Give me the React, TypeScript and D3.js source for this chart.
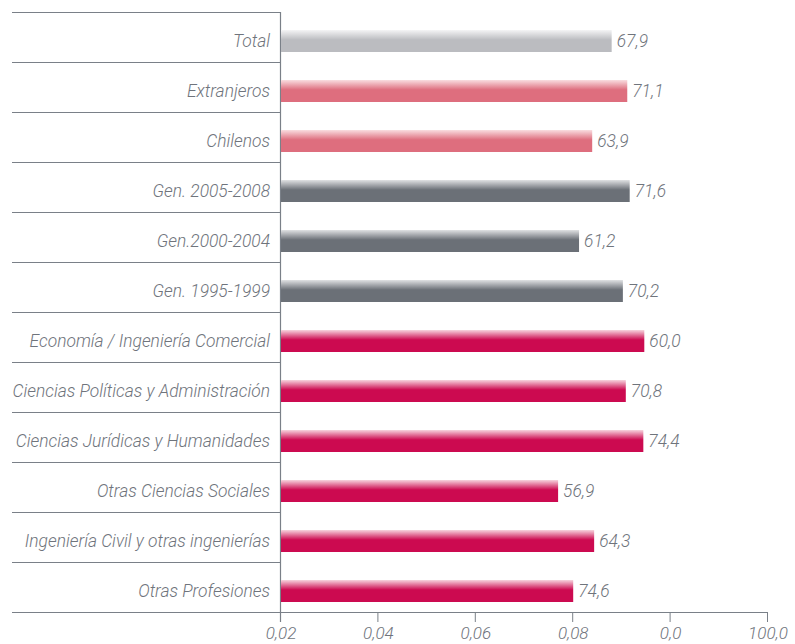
import React from "react";
import * as d3 from "d3";

const categories = [
  "Total",
  "Extranjeros",
  "Chilenos",
  "Gen. 2005-2008",
  "Gen.2000-2004",
  "Gen. 1995-1999",
  "Economía / Ingeniería Comercial",
  "Ciencias Políticas y Administración",
  "Ciencias Jurídicas y Humanidades",
  "Otras Ciencias Sociales",
  "Ingeniería Civil y otras ingenierías",
  "Otras Profesiones",
];
// bar lengths as drawn
const values = [67.9, 71.1, 63.9, 71.6, 61.2, 70.2, 74.6, 70.8, 74.4, 56.9, 64.3, 60.0];
// value labels as printed
const valueLabels = ["67,9", "71,1", "63,9", "71,6", "61,2", "70,2", "60,0", "70,8", "74,4", "56,9", "64,3", "74,6"];
const groups = ["total", "origin", "origin", "gen", "gen", "gen", "field", "field", "field", "field", "field", "field"];
const tickValues = [0, 20, 40, 60, 80, 100];
const tickLabels = ["0,02", "0,04", "0,06", "0,08", "0,0", "100,0"];

const colors: Record<string, string> = {
  total: "#bbbcc0",
  origin: "#de6e7e",
  gen: "#6b7077",
  field: "#cc0a50",
};
const lights: Record<string, string> = {
  total: "#f4f4f5",
  origin: "#f9dde0",
  gen: "#e0e1e3",
  field: "#f7d4de",
};

export default function App() {
  const W = 795, H = 644;
  const axisX0 = 281, axisX1 = 768;
  const top = 12, rowH = 50;
  const lineColor = "#7a8088";
  const textColor = "#6f747c";
  const x = d3.scaleLinear().domain([0, 100]).range([axisX0, axisX1]);
  const y = d3.scaleBand<string>().domain(categories).range([top, top + rowH * categories.length]);
  const font = "Roboto, 'Liberation Sans', Arial, sans-serif";
  const bottom = top + rowH * categories.length;

  return (
    <svg width={W} height={H} style={{ position: "absolute", left: 0, top: 0 }}>
      <defs>
        {Object.keys(colors).map((k) => (
          <linearGradient key={k} id={`g-${k}`} x1="0" y1="0" x2="0" y2="1">
            <stop offset="0" stopColor={lights[k]} />
            <stop offset="0.45" stopColor={colors[k]} />
            <stop offset="1" stopColor={colors[k]} />
          </linearGradient>
        ))}
      </defs>
      {categories.map((c, i) => (
        <line key={"h" + i} x1={12} x2={axisX0} y1={(y(c) as number) + 0.5} y2={(y(c) as number) + 0.5} stroke={lineColor} strokeWidth={1} />
      ))}
      <line x1={12} x2={axisX1} y1={bottom + 0.5} y2={bottom + 0.5} stroke={lineColor} strokeWidth={1} />
      <line x1={axisX0 - 0.5} x2={axisX0 - 0.5} y1={top} y2={bottom + 10} stroke={lineColor} strokeWidth={1.2} />
      {tickValues.map((t, i) => (
        <g key={"t" + i}>
          <line x1={x(t) - 0.5} x2={x(t) - 0.5} y1={bottom} y2={bottom + 10} stroke={lineColor} strokeWidth={1} />
          <text x={x(t)} y={bottom + 27} textAnchor="middle" fontFamily={font} fontWeight={300} fontStyle="italic" fontSize={17} fill={textColor}>
            {tickLabels[i]}
          </text>
        </g>
      ))}
      {categories.map((c, i) => {
        const y0 = (y(c) as number) + 18;
        return (
          <g key={"b" + i}>
            <text x={270} y={y0 + 17} textAnchor="end" fontFamily={font} fontWeight={300} fontStyle="italic" fontSize={17.4} fill={textColor}>
              {c}
            </text>
            <rect x={x(0)} y={y0} width={x(values[i]) - x(0)} height={22} fill={`url(#g-${groups[i]})`} />
            <text x={x(values[i]) + 5} y={y0 + 17} fontFamily={font} fontWeight={300} fontStyle="italic" fontSize={17.4} fill={textColor}>
              {valueLabels[i]}
            </text>
          </g>
        );
      })}
    </svg>
  );
}
